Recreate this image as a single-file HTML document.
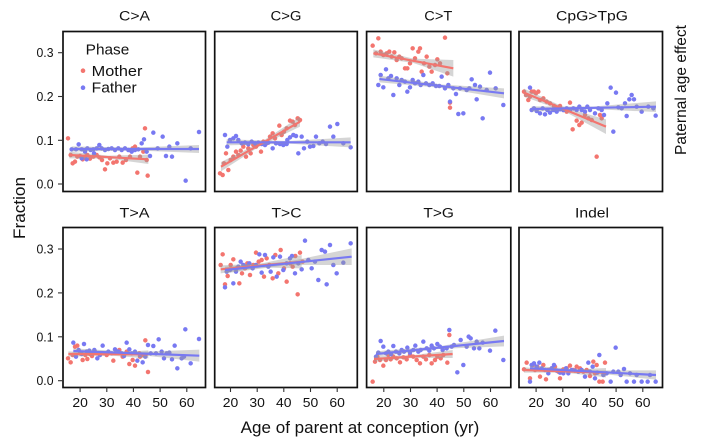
<!DOCTYPE html>
<html><head><meta charset="utf-8"><style>
html,body{margin:0;padding:0;background:#fff;}
svg{display:block;}
text{font-family:"Liberation Sans",Arial,Helvetica,sans-serif;fill:#111;}
.pr{fill:none;stroke:#f3756f;stroke-width:13.5;stroke-linecap:round;}
.pb{fill:none;stroke:#7879f2;stroke-width:13.5;stroke-linecap:round;}
.rib{fill:#9a9a9a;fill-opacity:0.42;stroke:none;}
.lr{stroke:#f3756f;stroke-width:6.5;fill:none;}
.lb{stroke:#7879f2;stroke-width:6.5;fill:none;}
.frame{fill:none;stroke:#111;stroke-width:1.7;}
.tk{stroke:#333;stroke-width:1.1;}
</style></head><body>
<svg width="703" height="443" viewBox="0 0 703 443" xmlns="http://www.w3.org/2000/svg">
<rect width="703" height="443" fill="#fff"/>

<!-- Group 1: panels C>A and C>G -->
<g transform="translate(0,0) scale(0.33333)">
<path class="pr" d="M204 415h0M212 465h0M218 490h0M225 485h0M232 470h0M240 468h0M248 478h0M255 470h0M262 465h0M270 476h0M280 470h0M290 465h0M298 472h0M306 480h0M315 508h0M322 490h0M330 475h0M340 488h0M350 485h0M358 470h0M368 488h0M378 480h0M390 470h0M398 445h0M405 440h0M412 518h0M420 470h0M435 385h0M443 527h0M440 480h0M430 455h0"/>
<path class="pb" d="M215 448h0M228 448h0M236 433h0M245 448h0M255 455h0M262 445h0M272 450h0M280 448h0M290 445h0M298 435h0M305 445h0M315 450h0M325 447h0M335 445h0M345 450h0M355 445h0M365 450h0M375 445h0M385 450h0M395 455h0M405 450h0M415 448h0M425 430h0M432 418h0M440 455h0M450 468h0M460 398h0M473 445h0M488 410h0M498 468h0M508 440h0M516 470h0M532 430h0M557 542h0M572 445h0M597 396h0M245 475h0M260 478h0M282 460h0"/>
<path class="pr" d="M660 520h0M668 525h0M672 490h0M678 460h0M685 510h0M692 480h0M700 470h0M708 455h0M715 465h0M722 452h0M730 440h0M738 470h0M745 445h0M752 460h0M760 435h0M768 440h0M778 430h0M783 455h0M790 425h0M800 430h0M810 410h0M818 400h0M825 415h0M838 377h0M845 405h0M852 395h0M860 385h0M870 362h0M878 365h0M885 375h0M893 355h0M900 360h0"/>
<path class="pb" d="M675 405h0M682 440h0M690 420h0M700 415h0M708 408h0M715 420h0M725 430h0M735 428h0M745 433h0M755 425h0M765 430h0M775 428h0M785 432h0M795 435h0M805 428h0M818 445h0M828 430h0M840 432h0M850 435h0M860 432h0M870 412h0M880 405h0M888 408h0M895 460h0M905 410h0M912 445h0M922 425h0M930 440h0M940 438h0M948 410h0M958 430h0M968 425h0M978 432h0M990 380h0M1012 372h0M1030 430h0M1052 442h0M1000 410h0M862 420h0"/>
<polygon class="rib" points="208,455 326,467 445,464 445,492 326,476 208,475"/>
<polygon class="rib" points="215,439 400,443 597,435 597,459 400,451 215,455"/>
<polygon class="rib" points="663,486 781.5,427.5 900,350 900,380 781.5,437.5 663,514"/>
<polygon class="rib" points="680,418 866,423 1052,412 1052,442 866,431 680,436"/>
<line class="lr" x1="208" y1="465" x2="445" y2="478"/>
<line class="lb" x1="215" y1="447" x2="597" y2="447"/>
<line class="lr" x1="663" y1="500" x2="900" y2="365"/>
<line class="lb" x1="680" y1="427" x2="1052" y2="427"/>
</g>

<!-- Group 2: panels C>T and CpG>TpG -->
<g transform="translate(350,0) scale(0.33333)">
<path class="pr" d="M68 137h0M85 115h0M78 160h0M92 155h0M100 165h0M110 160h0M118 155h0M125 170h0M133 157h0M140 180h0M148 170h0M155 175h0M165 205h0M172 205h0M180 190h0M188 145h0M195 175h0M205 155h0M210 145h0M215 215h0M222 190h0M230 170h0M238 200h0M245 215h0M255 195h0M262 178h0M270 190h0M285 113h0M292 220h0M300 308h0M300 323h0"/>
<path class="pb" d="M85 255h0M92 225h0M100 262h0M108 208h0M115 235h0M123 228h0M130 285h0M140 235h0M148 255h0M155 240h0M165 245h0M172 275h0M180 262h0M188 240h0M195 250h0M205 245h0M212 255h0M220 225h0M228 250h0M238 255h0M248 250h0M258 258h0M268 258h0M275 230h0M285 265h0M295 255h0M300 305h0M310 265h0M318 282h0M325 342h0M340 340h0M350 270h0M358 265h0M365 238h0M375 255h0M380 298h0M398 355h0M410 270h0M420 218h0M437 265h0M460 315h0M390 260h0M330 265h0"/>
<path class="pr" d="M522 275h0M528 285h0M535 300h0M540 290h0M545 275h0M552 275h0M558 280h0M565 275h0M570 300h0M580 295h0M590 305h0M600 310h0M612 318h0M620 325h0M630 318h0M640 330h0M650 335h0M660 308h0M668 388h0M680 362h0M688 375h0M695 368h0M705 345h0M715 355h0M725 360h0M740 470h0M750 345h0M755 355h0"/>
<path class="pb" d="M540 263h0M545 330h0M552 325h0M560 333h0M570 340h0M578 325h0M585 343h0M592 330h0M600 338h0M610 330h0M620 335h0M630 328h0M640 330h0M650 325h0M660 330h0M670 325h0M680 330h0M688 320h0M695 330h0M705 335h0M712 320h0M720 330h0M735 340h0M745 325h0M755 330h0M762 345h0M772 310h0M782 263h0M790 395h0M798 278h0M805 322h0M815 325h0M825 310h0M830 348h0M838 298h0M845 285h0M852 298h0M860 320h0M875 335h0M895 320h0M917 347h0M910 325h0"/>
<polygon class="rib" points="70,148 190,176 310,180 310,230 190,189 70,172"/>
<polygon class="rib" points="88,227 275,253.5 462,265 462,295 275,263.5 88,247"/>
<polygon class="rib" points="522,266 645,323 768,358 768,402 645,335 522,290"/>
<polygon class="rib" points="545,319 731.5,319.5 918,304 918,336 731.5,327.5 545,335"/>
<line class="lr" x1="70" y1="160" x2="310" y2="205"/>
<line class="lb" x1="88" y1="237" x2="462" y2="280"/>
<line class="lr" x1="522" y1="278" x2="768" y2="380"/>
<line class="lb" x1="545" y1="327" x2="918" y2="320"/>
</g>

<!-- Group 3: panels T>A and T>C -->
<g transform="translate(0,200) scale(0.33333)">
<path class="pr" d="M204 475h0M212 487h0M218 465h0M225 440h0M232 437h0M240 460h0M248 480h0M256 465h0M262 477h0M270 462h0M276 468h0M285 455h0M292 460h0M300 462h0M310 460h0M320 465h0M340 482h0M350 455h0M358 450h0M368 470h0M380 455h0M388 492h0M398 480h0M405 497h0M418 460h0M436 421h0M444 516h0M420 470h0M430 465h0"/>
<path class="pb" d="M220 428h0M228 470h0M236 450h0M245 462h0M252 432h0M260 455h0M268 452h0M275 460h0M283 450h0M292 475h0M300 465h0M308 437h0M316 460h0M325 455h0M335 460h0M345 448h0M355 455h0M365 460h0M372 468h0M380 428h0M388 448h0M395 460h0M405 455h0M412 482h0M420 465h0M428 487h0M436 470h0M444 435h0M452 460h0M460 438h0M468 460h0M476 418h0M485 455h0M492 475h0M500 460h0M508 458h0M516 478h0M524 437h0M532 505h0M545 475h0M552 470h0M556 388h0M572 490h0M597 417h0"/>
<path class="pr" d="M662 195h0M668 163h0M675 253h0M683 228h0M692 195h0M700 178h0M710 205h0M718 250h0M726 220h0M735 205h0M742 190h0M750 225h0M760 195h0M768 158h0M776 185h0M785 180h0M792 230h0M800 175h0M808 195h0M818 235h0M826 165h0M835 220h0M842 150h0M852 205h0M860 245h0M870 190h0M878 200h0M886 168h0M893 283h0M900 158h0M908 185h0"/>
<path class="pb" d="M675 262h0M680 215h0M690 210h0M700 250h0M708 215h0M715 200h0M722 185h0M730 195h0M740 200h0M748 190h0M758 205h0M768 195h0M778 163h0M785 218h0M795 165h0M805 200h0M812 215h0M820 172h0M830 230h0M840 170h0M850 210h0M860 190h0M870 175h0M876 168h0M885 220h0M895 190h0M905 208h0M915 122h0M925 180h0M935 205h0M945 185h0M955 240h0M965 150h0M975 155h0M980 253h0M990 135h0M1010 220h0M1030 188h0M1052 130h0M1000 195h0"/>
<polygon class="rib" points="205,454 325,458.5 445,451 445,475 325,466.5 205,470"/>
<polygon class="rib" points="220,445 409,456 598,449 598,485 409,464 220,461"/>
<polygon class="rib" points="662,196 783.5,190.5 905,165 905,205 783.5,202.5 662,220"/>
<polygon class="rib" points="675,200 865,185 1055,145 1055,195 865,195 675,220"/>
<line class="lr" x1="205" y1="462" x2="445" y2="463"/>
<line class="lb" x1="220" y1="453" x2="598" y2="467"/>
<line class="lr" x1="662" y1="208" x2="905" y2="185"/>
<line class="lb" x1="675" y1="210" x2="1055" y2="170"/>
</g>

<!-- Group 4: panels T>G and Indel -->
<g transform="translate(350,200) scale(0.33333)">
<path class="pr" d="M68 545h0M75 485h0M82 470h0M90 480h0M100 497h0M108 480h0M115 465h0M122 478h0M130 470h0M140 475h0M150 487h0M160 472h0M170 478h0M180 465h0M190 470h0M200 480h0M210 490h0M220 470h0M228 478h0M238 465h0M245 490h0M255 480h0M262 470h0M272 475h0M280 465h0M292 488h0M298 405h0"/>
<path class="pb" d="M78 470h0M85 458h0M92 423h0M100 440h0M108 460h0M115 455h0M123 462h0M130 438h0M138 455h0M148 460h0M155 450h0M162 455h0M172 443h0M180 458h0M190 450h0M196 437h0M205 455h0M212 450h0M220 425h0M230 445h0M238 452h0M245 437h0M252 445h0M262 432h0M270 440h0M278 450h0M290 445h0M298 390h0M305 440h0M312 435h0M322 517h0M332 420h0M340 495h0M350 440h0M356 410h0M362 415h0M372 445h0M380 425h0M388 445h0M398 428h0M420 452h0M436 392h0M460 480h0"/>
<path class="pr" d="M522 508h0M530 488h0M540 535h0M548 495h0M555 510h0M562 500h0M570 530h0M580 495h0M588 538h0M595 510h0M605 505h0M615 500h0M625 515h0M630 535h0M640 508h0M650 505h0M660 497h0M670 510h0M680 500h0M690 505h0M700 515h0M710 510h0M720 528h0M730 485h0M740 495h0M748 545h0M758 545h0M765 488h0M735 520h0"/>
<path class="pb" d="M540 545h0M545 495h0M552 490h0M560 500h0M568 488h0M575 505h0M585 510h0M595 520h0M605 505h0M612 495h0M620 512h0M630 518h0M640 520h0M648 505h0M655 520h0M665 510h0M675 512h0M685 515h0M695 510h0M705 530h0M715 488h0M720 515h0M728 500h0M735 535h0M742 518h0M748 465h0M760 525h0M770 520h0M782 545h0M790 515h0M797 443h0M805 515h0M812 525h0M822 507h0M830 545h0M840 520h0M852 545h0M875 545h0M893 545h0M917 545h0M860 525h0M900 525h0"/>
<polygon class="rib" points="72,469 190,465.5 308,450 308,474 190,473.5 72,485"/>
<polygon class="rib" points="78,454 270,438.5 462,407 462,439 270,446.5 78,470"/>
<polygon class="rib" points="522,502 645,510 768,504 768,532 645,518 522,518"/>
<polygon class="rib" points="540,497 729,511 918,511 918,539 729,519 540,513"/>
<line class="lr" x1="72" y1="477" x2="308" y2="462"/>
<line class="lb" x1="78" y1="462" x2="462" y2="423"/>
<line class="lr" x1="522" y1="510" x2="768" y2="518"/>
<line class="lb" x1="540" y1="505" x2="918" y2="525"/>
</g>

<!-- Panel frames -->
<rect class="frame" x="63" y="31.5" width="142.5" height="160"/>
<rect class="frame" x="214.7" y="31.5" width="142.6" height="160"/>
<rect class="frame" x="366.6" y="31.5" width="144.2" height="160"/>
<rect class="frame" x="519" y="31.5" width="143.5" height="160"/>
<rect class="frame" x="63" y="227.5" width="142.5" height="160"/>
<rect class="frame" x="214.7" y="227.5" width="142.6" height="160"/>
<rect class="frame" x="366.6" y="227.5" width="144.2" height="160"/>
<rect class="frame" x="519" y="227.5" width="143.5" height="160"/>

<!-- Strip titles -->
<g font-size="13.5" text-anchor="middle">
<text x="134.5" y="20.5" textLength="31" lengthAdjust="spacingAndGlyphs">C&gt;A</text>
<text x="286" y="20.5" textLength="31" lengthAdjust="spacingAndGlyphs">C&gt;G</text>
<text x="438.3" y="20.5" textLength="28" lengthAdjust="spacingAndGlyphs">C&gt;T</text>
<text x="592" y="20.5" textLength="72" lengthAdjust="spacingAndGlyphs">CpG&gt;TpG</text>
<text x="134.5" y="217.5" textLength="30" lengthAdjust="spacingAndGlyphs">T&gt;A</text>
<text x="286.5" y="217.5" textLength="30" lengthAdjust="spacingAndGlyphs">T&gt;C</text>
<text x="438.7" y="217.5" textLength="30.5" lengthAdjust="spacingAndGlyphs">T&gt;G</text>
<text x="592" y="217.5" textLength="34" lengthAdjust="spacingAndGlyphs">Indel</text>
</g>

<!-- Y ticks -->
<g class="tk">
<line x1="58" y1="52.7" x2="63" y2="52.7"/><line x1="58" y1="96.5" x2="63" y2="96.5"/><line x1="58" y1="140.3" x2="63" y2="140.3"/><line x1="58" y1="184" x2="63" y2="184"/>
<line x1="58" y1="249" x2="63" y2="249"/><line x1="58" y1="292.9" x2="63" y2="292.9"/><line x1="58" y1="336.8" x2="63" y2="336.8"/><line x1="58" y1="380.7" x2="63" y2="380.7"/>
</g>
<g font-size="12.5" text-anchor="end" fill="#1a1a1a">
<text x="53.5" y="57.2" textLength="17" lengthAdjust="spacingAndGlyphs">0.3</text>
<text x="53.5" y="101" textLength="17" lengthAdjust="spacingAndGlyphs">0.2</text>
<text x="53.5" y="144.8" textLength="17" lengthAdjust="spacingAndGlyphs">0.1</text>
<text x="53.5" y="188.5" textLength="17" lengthAdjust="spacingAndGlyphs">0.0</text>
<text x="53.5" y="253.5" textLength="17" lengthAdjust="spacingAndGlyphs">0.3</text>
<text x="53.5" y="297.4" textLength="17" lengthAdjust="spacingAndGlyphs">0.2</text>
<text x="53.5" y="341.3" textLength="17" lengthAdjust="spacingAndGlyphs">0.1</text>
<text x="53.5" y="385.2" textLength="17" lengthAdjust="spacingAndGlyphs">0.0</text>
</g>

<!-- X ticks -->
<g class="tk">
<line x1="80.1" y1="387.5" x2="80.1" y2="392"/><line x1="106.8" y1="387.5" x2="106.8" y2="392"/><line x1="133.4" y1="387.5" x2="133.4" y2="392"/><line x1="160.1" y1="387.5" x2="160.1" y2="392"/><line x1="186.8" y1="387.5" x2="186.8" y2="392"/>
<line x1="230.5" y1="387.5" x2="230.5" y2="392"/><line x1="257.2" y1="387.5" x2="257.2" y2="392"/><line x1="283.8" y1="387.5" x2="283.8" y2="392"/><line x1="310.5" y1="387.5" x2="310.5" y2="392"/><line x1="337.2" y1="387.5" x2="337.2" y2="392"/>
<line x1="383.8" y1="387.5" x2="383.8" y2="392"/><line x1="410.5" y1="387.5" x2="410.5" y2="392"/><line x1="437.1" y1="387.5" x2="437.1" y2="392"/><line x1="463.8" y1="387.5" x2="463.8" y2="392"/><line x1="490.5" y1="387.5" x2="490.5" y2="392"/>
<line x1="536.1" y1="387.5" x2="536.1" y2="392"/><line x1="562.8" y1="387.5" x2="562.8" y2="392"/><line x1="589.4" y1="387.5" x2="589.4" y2="392"/><line x1="616.1" y1="387.5" x2="616.1" y2="392"/><line x1="642.8" y1="387.5" x2="642.8" y2="392"/>
</g>
<g font-size="12.5" text-anchor="middle" fill="#1a1a1a">
<text x="80.1" y="407" textLength="15.5" lengthAdjust="spacingAndGlyphs">20</text><text x="106.8" y="407" textLength="15.5" lengthAdjust="spacingAndGlyphs">30</text><text x="133.4" y="407" textLength="15.5" lengthAdjust="spacingAndGlyphs">40</text><text x="160.1" y="407" textLength="15.5" lengthAdjust="spacingAndGlyphs">50</text><text x="186.8" y="407" textLength="15.5" lengthAdjust="spacingAndGlyphs">60</text>
<text x="230.5" y="407" textLength="15.5" lengthAdjust="spacingAndGlyphs">20</text><text x="257.2" y="407" textLength="15.5" lengthAdjust="spacingAndGlyphs">30</text><text x="283.8" y="407" textLength="15.5" lengthAdjust="spacingAndGlyphs">40</text><text x="310.5" y="407" textLength="15.5" lengthAdjust="spacingAndGlyphs">50</text><text x="337.2" y="407" textLength="15.5" lengthAdjust="spacingAndGlyphs">60</text>
<text x="383.8" y="407" textLength="15.5" lengthAdjust="spacingAndGlyphs">20</text><text x="410.5" y="407" textLength="15.5" lengthAdjust="spacingAndGlyphs">30</text><text x="437.1" y="407" textLength="15.5" lengthAdjust="spacingAndGlyphs">40</text><text x="463.8" y="407" textLength="15.5" lengthAdjust="spacingAndGlyphs">50</text><text x="490.5" y="407" textLength="15.5" lengthAdjust="spacingAndGlyphs">60</text>
<text x="536.1" y="407" textLength="15.5" lengthAdjust="spacingAndGlyphs">20</text><text x="562.8" y="407" textLength="15.5" lengthAdjust="spacingAndGlyphs">30</text><text x="589.4" y="407" textLength="15.5" lengthAdjust="spacingAndGlyphs">40</text><text x="616.1" y="407" textLength="15.5" lengthAdjust="spacingAndGlyphs">50</text><text x="642.8" y="407" textLength="15.5" lengthAdjust="spacingAndGlyphs">60</text>
</g>

<!-- Legend -->
<text x="85.7" y="54.3" font-size="14.5" textLength="43.6" lengthAdjust="spacingAndGlyphs">Phase</text>
<circle cx="83" cy="70.7" r="2.3" fill="#f3756f"/>
<text x="91.7" y="76" font-size="14.5" textLength="50.7" lengthAdjust="spacingAndGlyphs">Mother</text>
<circle cx="83" cy="87.7" r="2.3" fill="#7879f2"/>
<text x="91.7" y="92.7" font-size="14.5" textLength="45" lengthAdjust="spacingAndGlyphs">Father</text>

<!-- Axis titles -->
<text x="240.7" y="433" font-size="17" textLength="238.6" lengthAdjust="spacingAndGlyphs">Age of parent at conception (yr)</text>
<text transform="translate(25,208) rotate(-90)" font-size="17" text-anchor="middle" textLength="62" lengthAdjust="spacingAndGlyphs">Fraction</text>
<text transform="translate(686,90) rotate(-90)" font-size="15.5" text-anchor="middle" textLength="130" lengthAdjust="spacingAndGlyphs">Paternal age effect</text>
</svg>
</body></html>
